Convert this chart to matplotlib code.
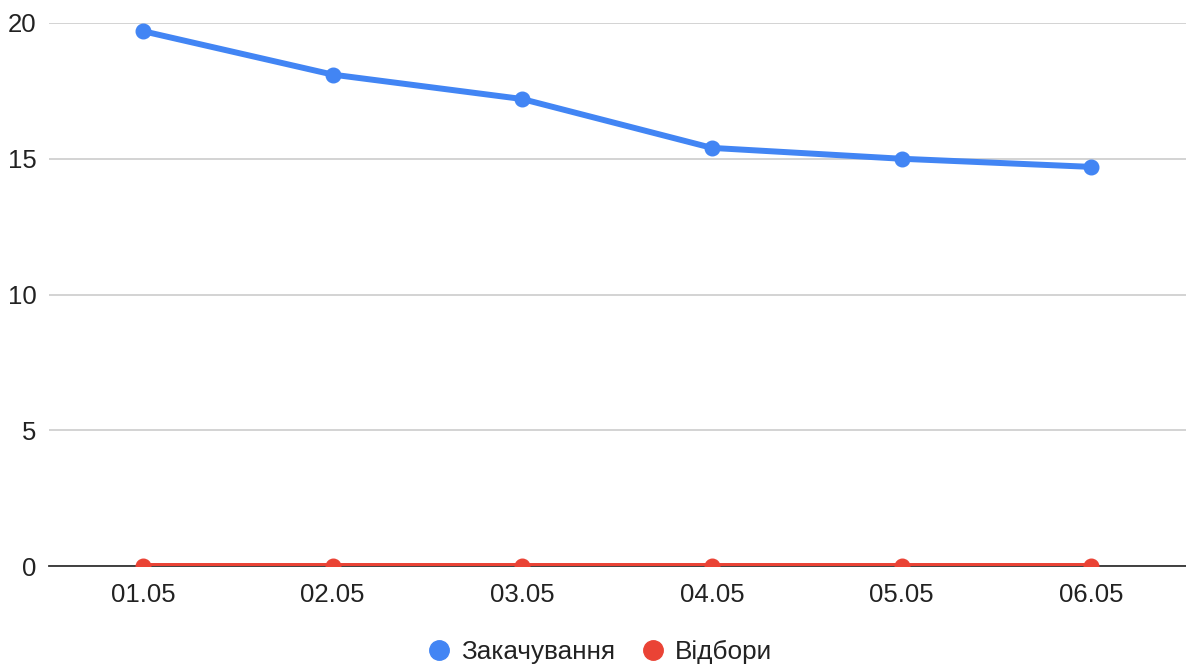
import matplotlib
matplotlib.use("Agg")
import matplotlib.pyplot as plt
from matplotlib.lines import Line2D

plt.rcParams['font.family'] = ['Liberation Sans', 'DejaVu Sans']

categories = ["01.05", "02.05", "03.05", "04.05", "05.05", "06.05"]
zakachuvannia = [19.7, 18.1, 17.2, 15.4, 15.0, 14.7]
vidbory = [0, 0, 0, 0, 0, 0]
series_names = ["Закачування", "Відбори"]
yticks = [0, 5, 10, 15, 20]

blue = "#4285F4"
red = "#EA4335"

fig = plt.figure(figsize=(11.86, 6.66), dpi=100)
ax = fig.add_axes([49/1186, 1 - 566/666, 1 - 49/1186, (566 - 23)/666])

x = list(range(len(categories)))
ax.plot(x, zakachuvannia, color=blue, lw=4.3, marker="o", ms=10.5, solid_capstyle="round", zorder=3)
ax.plot(x, vidbory, color=red, lw=4.3, marker="o", ms=10.5, zorder=3, clip_on=True)

ax.set_xlim(-0.495, 5.5)
ax.set_ylim(0, 20)
ax.set_yticks(yticks)
ax.set_yticklabels([str(v) for v in yticks])
ax.set_xticks(x)
ax.set_xticklabels(categories)

ax.grid(axis="y", color="#cccccc", lw=1.2)
ax.set_axisbelow(True)
for s in ["top", "right", "left"]:
    ax.spines[s].set_visible(False)
ax.spines["bottom"].set_color("#333333")
ax.spines["bottom"].set_linewidth(1.3)
ax.spines["bottom"].set_zorder(2)
ax.tick_params(axis="both", length=0, labelsize=18.5, colors="#222222")
ax.tick_params(axis="y", pad=9)
ax.tick_params(axis="x", pad=12)

handles = [Line2D([], [], color=c, marker="o", ls="", ms=14) for c in (blue, red)]
fig.legend(handles, series_names, loc="center", bbox_to_anchor=(0.5055, 1 - 652/666),
           ncol=2, frameon=False, fontsize=18.8, handlelength=0.95, handletextpad=0.35,
           columnspacing=1.0, labelcolor="#222222")

fig.savefig("out.png", dpi=100)
